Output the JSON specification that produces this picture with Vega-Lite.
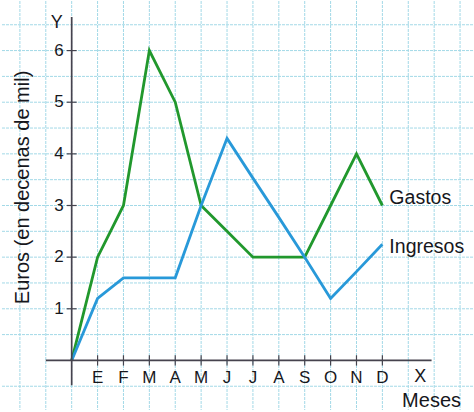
{
  "$schema": "https://vega.github.io/schema/vega-lite/v6.json",
  "width": 474,
  "height": 412,
  "autosize": {"type": "fit", "contains": "padding"},
  "padding": 0,
  "background": "white",
  "config": {"view": {"stroke": null}, "font": "Liberation Sans", "text": {"font": "Liberation Sans", "color": "#17171c"}},
  "datasets": {
    "series": [
      {"m": 0, "v": 0, "s": "Gastos"}, {"m": 1, "v": 2, "s": "Gastos"}, {"m": 2, "v": 3, "s": "Gastos"},
      {"m": 3, "v": 6, "s": "Gastos"}, {"m": 4, "v": 5, "s": "Gastos"}, {"m": 5, "v": 3, "s": "Gastos"},
      {"m": 6, "v": 2.5, "s": "Gastos"}, {"m": 7, "v": 2, "s": "Gastos"}, {"m": 8, "v": 2, "s": "Gastos"},
      {"m": 9, "v": 2, "s": "Gastos"}, {"m": 10, "v": 3, "s": "Gastos"}, {"m": 11, "v": 4, "s": "Gastos"},
      {"m": 12, "v": 3, "s": "Gastos"},
      {"m": 0, "v": 0, "s": "Ingresos"}, {"m": 1, "v": 1.2, "s": "Ingresos"}, {"m": 2, "v": 1.6, "s": "Ingresos"},
      {"m": 3, "v": 1.6, "s": "Ingresos"}, {"m": 4, "v": 1.6, "s": "Ingresos"}, {"m": 5, "v": 3, "s": "Ingresos"},
      {"m": 6, "v": 4.3, "s": "Ingresos"}, {"m": 7, "v": 3.53, "s": "Ingresos"}, {"m": 8, "v": 2.77, "s": "Ingresos"},
      {"m": 9, "v": 2, "s": "Ingresos"}, {"m": 10, "v": 1.2, "s": "Ingresos"}, {"m": 11, "v": 1.72, "s": "Ingresos"},
      {"m": 12, "v": 2.25, "s": "Ingresos"}
    ],
    "months": [
      {"m": 1, "t": "E"}, {"m": 2, "t": "F"}, {"m": 3, "t": "M"}, {"m": 4, "t": "A"},
      {"m": 5, "t": "M"}, {"m": 6, "t": "J"}, {"m": 7, "t": "J"}, {"m": 8, "t": "A"},
      {"m": 9, "t": "S"}, {"m": 10, "t": "O"}, {"m": 11, "t": "N"}, {"m": 12, "t": "D"}
    ],
    "gridx": [
      {"g": -2}, {"g": -1}, {"g": 0}, {"g": 1}, {"g": 2}, {"g": 3}, {"g": 4}, {"g": 5}, {"g": 6},
      {"g": 7}, {"g": 8}, {"g": 9}, {"g": 10}, {"g": 11}, {"g": 12}, {"g": 13}, {"g": 14}, {"g": 15}
    ],
    "gridy": [
      {"g": -0.5}, {"g": 0.5}, {"g": 1}, {"g": 1.5}, {"g": 2}, {"g": 2.5}, {"g": 3}, {"g": 3.5},
      {"g": 4}, {"g": 4.5}, {"g": 5}, {"g": 5.5}, {"g": 6}, {"g": 6.5}
    ],
    "yvals": [{"v": 1}, {"v": 2}, {"v": 3}, {"v": 4}, {"v": 5}, {"v": 6}],
    "axes": [
      {"x": -1, "x2": 13.9, "y": 0, "y2": 0},
      {"x": 0, "x2": 0, "y": -0.48, "y2": 6.65}
    ],
    "serieslabels": [
      {"t": "Gastos", "x": 12.27, "y": 3.15},
      {"t": "Ingresos", "x": 12.27, "y": 2.2}
    ],
    "axislabels": [
      {"t": "Y", "x": -0.58, "y": 6.53},
      {"t": "X", "x": 13.46, "y": -0.32}
    ]
  },
  "layer": [
    {
      "data": {"name": "gridx"},
      "mark": {"type": "rule", "color": "#a3d9e7", "strokeWidth": 1, "strokeDash": [3, 1]},
      "encoding": {
        "x": {"field": "g", "type": "quantitative", "scale": {"domain": [-2.73, 15.5], "nice": false, "zero": false}, "axis": null}
      }
    },
    {
      "data": {"name": "gridy"},
      "mark": {"type": "rule", "color": "#a3d9e7", "strokeWidth": 1, "strokeDash": [3, 1]},
      "encoding": {
        "y": {"field": "g", "type": "quantitative", "scale": {"domain": [-0.96, 6.96], "nice": false, "zero": false}, "axis": null}
      }
    },
    {
      "data": {"name": "series"},
      "mark": {"type": "line", "strokeWidth": 2.8, "strokeJoin": "miter"},
      "encoding": {
        "x": {"field": "m", "type": "quantitative"},
        "y": {"field": "v", "type": "quantitative"},
        "color": {"field": "s", "type": "nominal", "scale": {"domain": ["Gastos", "Ingresos"], "range": ["#21982d", "#2899d9"]}, "legend": null},
        "order": {"field": "m"}
      }
    },
    {
      "data": {"name": "axes"},
      "mark": {"type": "rule", "color": "#46434e", "strokeWidth": 1.7},
      "encoding": {
        "x": {"field": "x", "type": "quantitative"},
        "x2": {"field": "x2"},
        "y": {"field": "y", "type": "quantitative"},
        "y2": {"field": "y2"}
      }
    },
    {
      "data": {"name": "months"},
      "mark": {"type": "rule", "color": "#46434e", "strokeWidth": 1.2},
      "encoding": {
        "x": {"field": "m", "type": "quantitative"},
        "y": {"datum": -0.1},
        "y2": {"datum": 0.1}
      }
    },
    {
      "data": {"name": "yvals"},
      "mark": {"type": "rule", "color": "#46434e", "strokeWidth": 1.2},
      "encoding": {
        "y": {"field": "v", "type": "quantitative"},
        "x": {"datum": -0.19},
        "x2": {"datum": 0.19}
      }
    },
    {
      "data": {"name": "months"},
      "mark": {"type": "text", "fontSize": 17, "baseline": "middle", "align": "center"},
      "encoding": {
        "x": {"field": "m", "type": "quantitative"},
        "y": {"datum": -0.35},
        "text": {"field": "t"}
      }
    },
    {
      "data": {"name": "yvals"},
      "mark": {"type": "text", "fontSize": 17, "baseline": "middle", "align": "right"},
      "encoding": {
        "y": {"field": "v", "type": "quantitative"},
        "x": {"datum": -0.31},
        "text": {"field": "v"}
      }
    },
    {
      "data": {"name": "axislabels"},
      "mark": {"type": "text", "fontSize": 18, "baseline": "middle", "align": "center"},
      "encoding": {
        "x": {"field": "x", "type": "quantitative"},
        "y": {"field": "y", "type": "quantitative"},
        "text": {"field": "t"}
      }
    },
    {
      "data": {"name": "serieslabels"},
      "mark": {"type": "text", "fontSize": 19.5, "baseline": "middle", "align": "left"},
      "encoding": {
        "x": {"field": "x", "type": "quantitative"},
        "y": {"field": "y", "type": "quantitative"},
        "text": {"field": "t"}
      }
    },
    {
      "data": {"values": [{"t": "Meses", "x": 13.9, "y": -0.79}]},
      "mark": {"type": "text", "fontSize": 20, "baseline": "middle", "align": "center"},
      "encoding": {
        "x": {"field": "x", "type": "quantitative"},
        "y": {"field": "y", "type": "quantitative"},
        "text": {"field": "t"}
      }
    },
    {
      "data": {"values": [{"t": "Euros (en decenas de mil)", "x": -1.88, "y": 3.35}]},
      "mark": {"type": "text", "fontSize": 20, "baseline": "middle", "align": "center", "angle": 270},
      "encoding": {
        "x": {"field": "x", "type": "quantitative"},
        "y": {"field": "y", "type": "quantitative"},
        "text": {"field": "t"}
      }
    }
  ]
}
